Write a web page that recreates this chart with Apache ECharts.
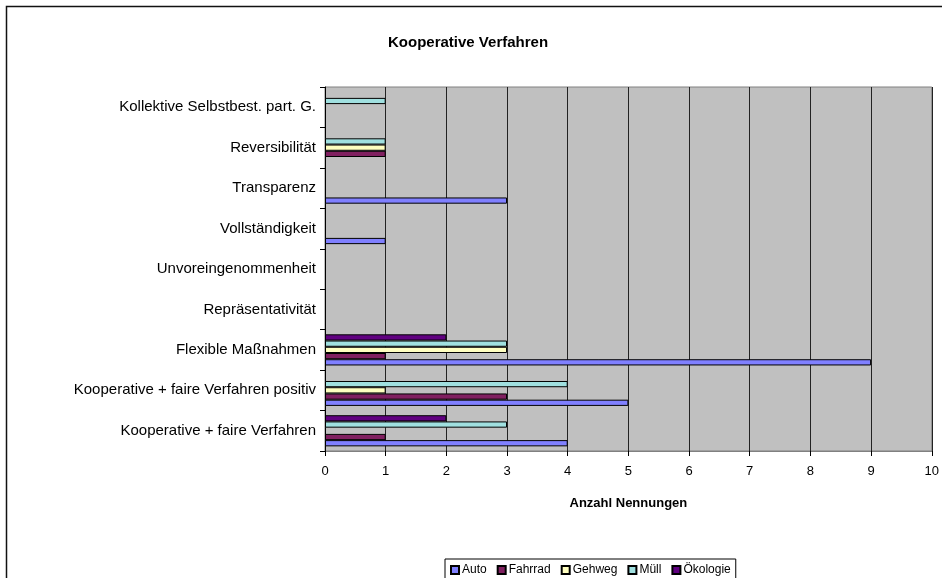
<!DOCTYPE html>
<html><head><meta charset="utf-8">
<script src="https://cdn.jsdelivr.net/npm/echarts@6/dist/echarts.min.js"></script>
<style>html,body{margin:0;padding:0;background:#fff}#c{width:942px;height:578px}</style>
</head><body><div id="c"></div>
<script>
const categories = ["Kooperative + faire Verfahren","Kooperative + faire Verfahren positiv","Flexible Maßnahmen","Repräsentativität","Unvoreingenommenheit","Vollständigkeit","Transparenz","Reversibilität","Kollektive Selbstbest. part. G."];
const auto    = [4,5,9,0,0,1,3,0,0];
const fahrrad = [1,3,1,0,0,0,0,1,0];
const gehweg  = [0,1,3,0,0,0,0,1,0];
const muell   = [3,4,3,0,0,0,0,1,1];
const oekologie = [2,0,2,0,0,0,0,0,0];
const seriesNames = ["Auto","Fahrrad","Gehweg","Müll","Ökologie"];
const seriesColors = ["#8080ff","#802060","#ffffc0","#a0e0e0","#600080"];
const xTicks = [0,1,2,3,4,5,6,7,8,9,10];

const values = [auto,fahrrad,gehweg,muell,oekologie];
const font = "'Liberation Sans', Arial, sans-serif";
const chart = echarts.init(document.getElementById('c'));
// ECharts stacks grouped horizontal bars top-down, so draw in reverse order to keep Auto at the bottom
const order = [4,3,2,1,0];
chart.setOption({
  animation:false,
  textStyle:{fontFamily:font},
  title:{text:"Kooperative Verfahren",left:383,top:30,
    textStyle:{fontFamily:font,fontSize:15,fontWeight:'bold',color:'#000'}},
  graphic:[{type:'rect',shape:{x:6.5,y:6.5,width:1200,height:1200},style:{fill:null,stroke:'#111',lineWidth:1.5},z:-10}],
  legend:{bottom:-6,left:445,itemWidth:8,itemHeight:8,itemGap:10,icon:'rect',
    borderColor:'#000',borderWidth:1,padding:[5,5,8,5],
    textStyle:{fontFamily:font,fontSize:12,color:'#000',padding:[0,0,0,-2]},
    data:seriesNames},
  grid:{left:325,top:87,width:607,height:364,show:true,backgroundColor:'#c0c0c0',borderColor:'#808080',borderWidth:1},
  xAxis:{type:'value',min:0,max:10,interval:1,
    name:"Anzahl Nennungen",nameLocation:'middle',nameGap:46,
    nameTextStyle:{fontFamily:font,fontSize:13,fontWeight:'bold',color:'#000'},
    axisLine:{show:true,lineStyle:{color:'#808080'}},
    axisTick:{show:true,length:5,lineStyle:{color:'#000'}},
    axisLabel:{color:'#000',fontSize:13,margin:14,fontFamily:font,
      formatter:v=>String(xTicks[v]!==undefined?xTicks[v]:v)},
    splitLine:{show:true,lineStyle:{color:'#222',width:1}}},
  yAxis:{type:'category',data:categories,
    axisLine:{show:true,lineStyle:{color:'#000'}},
    axisTick:{show:true,length:5,lineStyle:{color:'#000'}},
    axisLabel:{color:'#000',fontSize:15,margin:9,fontFamily:font}},
  series: order.map(i=>({
    name:seriesNames[i],type:'bar',barGap:'0%',barCategoryGap:'23%',
    itemStyle:{color:seriesColors[i],borderColor:'#000',borderWidth:1},
    data:values[i].map(v=>v===0?null:v)
  }))
});
</script></body></html>
